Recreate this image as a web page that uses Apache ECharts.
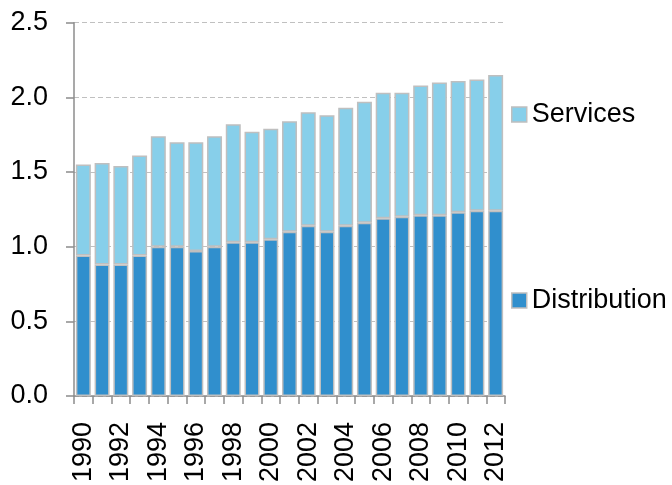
<!DOCTYPE html>
<html>
<head>
<meta charset="utf-8">
<script src="https://cdn.jsdelivr.net/npm/echarts@6/dist/echarts.min.js"></script>
<style>
html,body{margin:0;padding:0;background:#fff;}
#chart{width:672px;height:485px;}
</style>
</head>
<body>
<div id="chart"></div>
<script>
var years = ['1990','1991','1992','1993','1994','1995','1996','1997','1998','1999','2000','2001','2002','2003','2004','2005','2006','2007','2008','2009','2010','2011','2012'];
var distribution = [0.94,0.88,0.88,0.94,1.00,1.00,0.97,1.00,1.03,1.03,1.05,1.10,1.14,1.10,1.14,1.16,1.19,1.20,1.21,1.21,1.23,1.24,1.24];
var services = [0.61,0.68,0.66,0.67,0.74,0.70,0.73,0.74,0.79,0.74,0.74,0.74,0.76,0.78,0.79,0.81,0.84,0.83,0.87,0.89,0.88,0.88,0.91];
var yTicks = [0, 0.5, 1.0, 1.5, 2.0, 2.5];

var FONT = 'Liberation Sans, Arial, sans-serif';
var FS = 27;
var chart = echarts.init(document.getElementById('chart'), null, {renderer: 'canvas'});
var option = {
  animation: false,
  backgroundColor: '#ffffff',
  grid: {left: 74, right: 167, top: 22.7, bottom: 86.7, containLabel: false},
  legend: [
    {data: ['Services'], left: 511, top: 101, padding: 0, itemWidth: 15, itemHeight: 15, icon: 'rect',
     itemStyle: {borderColor: '#bfbfbf', borderWidth: 1.5},
     textStyle: {fontFamily: FONT, fontSize: FS, color: '#000', lineHeight: 27}},
    {data: ['Distribution'], left: 511, top: 287, padding: 0, itemWidth: 15, itemHeight: 15, icon: 'rect',
     itemStyle: {borderColor: '#bfbfbf', borderWidth: 1.5},
     textStyle: {fontFamily: FONT, fontSize: FS, color: '#000', lineHeight: 27}}
  ],
  xAxis: {
    type: 'category',
    data: years,
    axisLine: {lineStyle: {color: '#8c8c8c', width: 1.5}},
    axisTick: {show: true, alignWithLabel: false, interval: 0, length: 8, lineStyle: {color: '#8c8c8c', width: 1.5}},
    axisLabel: {interval: 1, rotate: 90, margin: 26, fontFamily: FONT, fontSize: FS, color: '#000'}
  },
  yAxis: {
    type: 'value',
    min: yTicks[0],
    max: yTicks[yTicks.length - 1],
    interval: 0.5,
    axisLine: {show: true, lineStyle: {color: '#8c8c8c', width: 1.5}},
    axisTick: {show: true, length: 8, lineStyle: {color: '#8c8c8c', width: 1.5}},
    axisLabel: {margin: 26, fontFamily: FONT, fontSize: FS, color: '#000',
      formatter: function (v) { return v.toFixed(1); }},
    splitLine: {show: true, lineStyle: {color: '#c0c0c0', width: 1.2, type: [5, 3]}}
  },
  series: [
    {name: 'Distribution', type: 'bar', stack: 'total', data: distribution, barCategoryGap: '20%',
     itemStyle: {color: '#308fcd', borderColor: '#bfbfbf', borderWidth: 1.5}},
    {name: 'Services', type: 'bar', stack: 'total', data: services, barCategoryGap: '20%',
     itemStyle: {color: '#87cfea', borderColor: '#bfbfbf', borderWidth: 1.5}}
  ]
};
chart.setOption(option);
</script>
</body>
</html>
